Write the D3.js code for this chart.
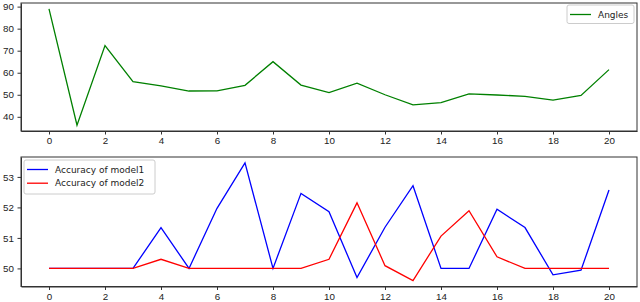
<!DOCTYPE html>
<html>
<head>
<meta charset="utf-8">
<script src="https://cdn.jsdelivr.net/npm/d3@7"></script>
<style>
  body { margin: 0; background: #fff; }
  svg { font-family: "DejaVu Sans", sans-serif; }
  .axis text { font-size: 9.8px; fill: #222; }
  .axis path, .axis line { stroke: #333; }
  .legend text { font-size: 9px; fill: #222; }
</style>
</head>
<body>
<script>
const steps = d3.range(0, 21)
const angles = [89, 36.2, 72.3, 55.9, 54, 51.7, 51.8, 54.3, 65, 54.4, 51, 55.3, 50, 45.4, 46.4, 50.4, 49.9, 49.3, 47.6, 49.7, 61.4]
const model1 = [50, 50, 50, 50, 51.34, 50, 51.97, 53.46, 50, 52.46, 51.86, 49.7, 51.35, 52.71, 50, 50, 51.94, 51.34, 49.79, 49.94, 52.57]
const model2 = [50, 50, 50, 50, 50.3, 50, 50, 50, 50, 50, 50.3, 52.15, 50.09, 49.6, 51.06, 51.89, 50.38, 50, 50, 50, 50]
const xTicks = [0, 2, 4, 6, 8, 10, 12, 14, 16, 18, 20]
const topTicks = [40, 50, 60, 70, 80, 90]
const bottomTicks = [50, 51, 52, 53]

const W = 640, H = 302
const svg = d3.select('body').append('svg')
    .attr('width', W)
    .attr('height', H)

const left = 21, right = 637

function pad(ext) {
  const m = (ext[1] - ext[0]) * 0.05
  return [ext[0] - m, ext[1] + m]
}

function panel(top, bottom, series, yTicks) {
  const all = series.flatMap(s => s.values)
  let x = d3.scaleLinear().domain([-1, 21]).range([left, right])
  let y = d3.scaleLinear().domain(pad(d3.extent(all))).range([bottom, top])

  let g = svg.append('g')

  g.append('g')
      .attr('class', 'axis')
      .attr('transform', `translate(0,${bottom})`)
      .call(d3.axisBottom(x).tickValues(xTicks).tickSize(3.5).tickPadding(3).tickSizeOuter(0))

  g.append('g')
      .attr('class', 'axis')
      .attr('transform', `translate(${left},0)`)
      .call(d3.axisLeft(y).tickValues(yTicks).tickFormat(d3.format('d')).tickSize(3.5).tickPadding(3.5).tickSizeOuter(0))

  // frame
  g.append('rect')
      .attr('x', left)
      .attr('y', top)
      .attr('width', right - left)
      .attr('height', bottom - top)
      .attr('fill', 'none')
      .attr('stroke', '#333')
      .attr('stroke-width', 1)

  let line = d3.line()
      .x((d, i) => x(steps[i]))
      .y(d => y(d))

  series.forEach(s => {
    g.append('path')
        .datum(s.values)
        .attr('d', line)
        .attr('fill', 'none')
        .attr('stroke', s.color)
        .attr('stroke-width', 1.3)
  })
  return g
}

panel(3, 131, [{name: 'Angles', color: '#008000', values: angles}], topTicks)
panel(157, 286.5, [
  {name: 'Accuracy of model1', color: '#0000ff', values: model1},
  {name: 'Accuracy of model2', color: '#ff0000', values: model2}
], bottomTicks)

// legends
function legend(x0, y0, w, items) {
  let lg = svg.append('g')
      .attr('class', 'legend')
      .attr('transform', `translate(${x0},${y0})`)
  lg.append('rect')
      .attr('width', w)
      .attr('height', items.length * 15.5 + 3)
      .attr('rx', 2)
      .attr('fill', '#fff')
      .attr('stroke', '#ccc')
  items.forEach((it, i) => {
    let yy = 9.5 + i * 13.7
    lg.append('line')
        .attr('x1', 3).attr('x2', 24)
        .attr('y1', yy).attr('y2', yy)
        .attr('stroke', it.color)
        .attr('stroke-width', 1.3)
    lg.append('text')
        .attr('x', 31)
        .attr('y', yy + 3.2)
        .text(it.name)
  })
}

legend(567, 5, 67, [{name: 'Angles', color: '#008000'}])
legend(24, 160, 131, [
  {name: 'Accuracy of model1', color: '#0000ff'},
  {name: 'Accuracy of model2', color: '#ff0000'}
])
</script>
</body>
</html>
